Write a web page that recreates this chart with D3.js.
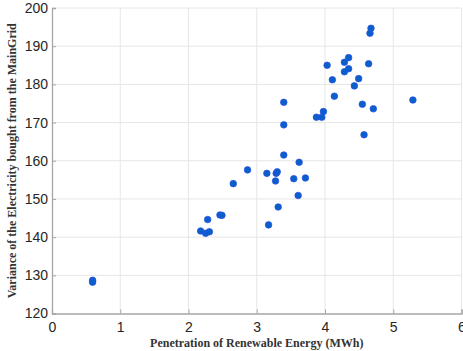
<!DOCTYPE html>
<html>
<head>
<meta charset="utf-8">
<script src="https://cdn.jsdelivr.net/npm/d3@7"></script>
<style>
  body { margin: 0; background: #fff; }
  svg { display: block; }
</style>
</head>
<body>
<svg id="chart" width="463" height="351"></svg>
<script>
// penetration of renewable energy (MWh)
const penetration = [0.595, 0.595, 2.178, 2.251, 2.306, 2.281, 2.461, 2.490, 2.656, 2.865,
  3.173, 3.148, 3.285, 3.300, 3.275, 3.314, 3.396, 3.396, 3.396, 3.542,
  3.607, 3.621, 3.713, 3.874, 3.952, 3.977, 4.031, 4.108, 4.137, 4.284,
  4.284, 4.346, 4.346, 4.430, 4.493, 4.547, 4.572, 4.639, 4.659, 4.674,
  4.708, 5.288];
// variance of electricity bought from main grid
const variance = [128.7, 128.2, 141.6, 141.0, 141.4, 144.6, 145.8, 145.7, 154.0, 157.6,
  143.2, 156.7, 156.7, 157.1, 154.7, 147.9, 161.5, 169.4, 175.3, 155.3,
  150.9, 159.6, 155.5, 171.4, 171.4, 172.9, 185.0, 181.2, 176.9, 185.8,
  183.3, 187.0, 184.1, 179.6, 181.5, 174.8, 166.8, 185.4, 193.4, 194.7,
  173.6, 175.9];
const xTicks = [0, 1, 2, 3, 4, 5, 6];
const yTicks = [120, 130, 140, 150, 160, 170, 180, 190, 200];

const points = penetration.map((x, i) => ({ x, y: variance[i] }));

const svg = d3.select('#chart');
const margin = { top: 8, right: 1, bottom: 38, left: 52 };
const width = +svg.attr('width');
const height = +svg.attr('height');

const xScale = d3.scaleLinear().domain([0, 6]).range([margin.left, width - margin.right - 0.5]);
const yScale = d3.scaleLinear().domain([120, 200]).range([height - margin.bottom + 0.5, margin.top]);

// grid
svg.append('g')
    .selectAll('line')
    .data(xTicks.slice(1))
    .join('line')
    .attr('x1', d => xScale(d)).attr('x2', d => xScale(d))
    .attr('y1', yScale(120)).attr('y2', yScale(200))
    .attr('stroke', '#e6e6e6').attr('stroke-width', 1);

svg.append('g')
    .selectAll('line')
    .data(yTicks.slice(1))
    .join('line')
    .attr('x1', xScale(0)).attr('x2', xScale(6))
    .attr('y1', d => yScale(d)).attr('y2', d => yScale(d))
    .attr('stroke', '#e6e6e6').attr('stroke-width', 1);

// axes
const xAxis = d3.axisBottom(xScale).tickValues(xTicks).tickSize(-4).tickPadding(9).tickFormat(d3.format('d'));
const yAxis = d3.axisLeft(yScale).tickValues(yTicks).tickSize(-4).tickPadding(4).tickFormat(d3.format('d'));

const gx = svg.append('g')
    .attr('transform', `translate(0,${yScale(120)})`)
    .call(xAxis);
const gy = svg.append('g')
    .attr('transform', `translate(${xScale(0)},0)`)
    .call(yAxis);

[gx, gy].forEach(g => {
    g.select('.domain').attr('stroke', '#a6a6a6').attr('stroke-width', 1.3);
    g.selectAll('.tick line').attr('stroke', '#a6a6a6');
    g.selectAll('.tick text')
        .attr('fill', '#262626')
        .style('font-family', '"Liberation Sans", Arial, sans-serif')
        .style('font-size', '14px');
});
gx.selectAll('.tick text').attr('dy', '0.71em');

// points
svg.append('g')
    .selectAll('circle')
    .data(points)
    .join('circle')
    .attr('cx', d => xScale(d.x))
    .attr('cy', d => yScale(d.y))
    .attr('r', 3.3)
    .attr('fill', '#0a5fc9')
    .attr('stroke', '#2a4fe6')
    .attr('stroke-width', 0.7);

// labels
svg.append('text')
    .attr('x', (xScale(0) + xScale(6)) / 2)
    .attr('y', 347)
    .attr('text-anchor', 'middle')
    .attr('fill', '#333')
    .style('font-family', '"Liberation Serif", "Times New Roman", serif')
    .style('font-size', '12px')
    .style('font-weight', 'bold')
    .text('Penetration of Renewable Energy (MWh)');

svg.append('text')
    .attr('transform', `translate(16,${(yScale(120) + yScale(200)) / 2}) rotate(-90)`)
    .attr('text-anchor', 'middle')
    .attr('fill', '#333')
    .style('font-family', '"Liberation Serif", "Times New Roman", serif')
    .style('font-size', '12px')
    .style('font-weight', 'bold')
    .text('Variance of the Electricity bought from the MainGrid');
</script>
</body>
</html>
